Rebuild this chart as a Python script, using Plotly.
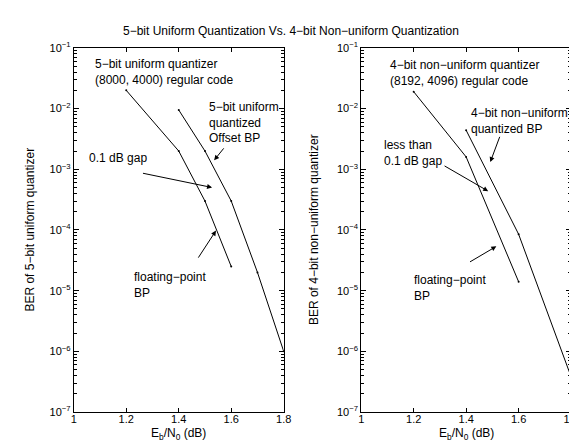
import plotly.graph_objects as go

# ---- data ----
snr_float_5 = [1.2, 1.4, 1.5, 1.6]
ber_float_5 = [2.0e-2, 2.0e-3, 3.0e-4, 2.5e-5]
snr_offset_5 = [1.4, 1.5, 1.6, 1.7, 1.8]
ber_offset_5 = [9.5e-3, 2.0e-3, 3.0e-4, 2.0e-5, 1.0e-6]

snr_float_4 = [1.2, 1.4, 1.6]
ber_float_4 = [1.9e-2, 1.6e-3, 1.4e-5]
snr_quant_4 = [1.4, 1.6, 1.8]
ber_quant_4 = [4.4e-3, 8.5e-5, 3.8e-7]

x_ticks = [1, 1.2, 1.4, 1.6, 1.8]
x_ticklabels = ["1", "1.2", "1.4", "1.6", "1.8"]
y_ticks = [1e-1, 1e-2, 1e-3, 1e-4, 1e-5, 1e-6, 1e-7]
y_ticklabels = ["10<sup>\u22121</sup>", "10<sup>\u22122</sup>", "10<sup>\u22123</sup>",
                "10<sup>\u22124</sup>", "10<sup>\u22125</sup>", "10<sup>\u22126</sup>",
                "10<sup>\u22127</sup>"]
y_minor = [m * 10.0 ** e for e in range(-7, -1) for m in range(2, 10)]

FONT = "Liberation Sans, Arial, sans-serif"

fig = go.Figure()
line = dict(color="black", width=1)
mk = dict(color="black", size=2)
fig.add_trace(go.Scatter(x=snr_float_5, y=ber_float_5, mode="lines+markers", line=line, marker=mk, xaxis="x", yaxis="y"))
fig.add_trace(go.Scatter(x=snr_offset_5, y=ber_offset_5, mode="lines+markers", line=line, marker=mk, xaxis="x", yaxis="y"))
fig.add_trace(go.Scatter(x=snr_float_4, y=ber_float_4, mode="lines+markers", line=line, marker=mk, xaxis="x2", yaxis="y2"))
fig.add_trace(go.Scatter(x=snr_quant_4, y=ber_quant_4, mode="lines+markers", line=line, marker=mk, xaxis="x2", yaxis="y2"))

xax = dict(range=[1, 1.8], tickvals=x_ticks, ticktext=x_ticklabels, ticks="inside", ticklen=4,
           tickcolor="black", showline=True, linecolor="black", linewidth=1, mirror="ticks",
           showgrid=False, zeroline=False, tickfont=dict(size=11, color="black"),
           ticklabelstandoff=-3)
yax = dict(type="log", range=[-7, -1], tickvals=y_ticks, ticktext=y_ticklabels, ticks="inside",
           ticklen=5, tickcolor="black", showline=True, linecolor="black", linewidth=1,
           mirror="ticks", showgrid=False, zeroline=False, tickfont=dict(size=11, color="black"),
           minor=dict(ticks="inside", ticklen=3, tickwidth=1, tickcolor="black",
                      tickvals=y_minor, showgrid=False))

ytop, ybot = 1 - 33 / 441, 1 - 409 / 441
fig.update_layout(
    width=577, height=441, margin=dict(l=0, r=0, t=0, b=0),
    paper_bgcolor="white", plot_bgcolor="white", showlegend=False,
    font=dict(family=FONT, color="black", size=11),
    xaxis=dict(xax, domain=[64 / 577, 278 / 577], anchor="y"),
    yaxis=dict(yax, domain=[ybot, ytop], anchor="x"),
    xaxis2=dict(xax, domain=[357 / 577, 571 / 577], anchor="y2"),
    yaxis2=dict(yax, domain=[ybot, ytop], anchor="x2"),
)

fig.add_annotation(text="5\u2212bit Uniform Quantization Vs. 4\u2212bit Non\u2212uniform Quantization",
                   xref="paper", yref="paper", x=285 / 577, y=1 - 15 / 441, showarrow=False,
                   font=dict(size=12), xanchor="center", yanchor="middle")

ymid = 1 - 221 / 441
for xc, t in [(19, "BER of 5\u2212bit uniform quantizer"), (309, "BER of 4\u2212bit non\u2212uniform quantizer")]:
    fig.add_annotation(text=t, xref="paper", yref="paper", x=xc / 577, y=ymid, textangle=-90,
                       showarrow=False, font=dict(size=12), xanchor="center", yanchor="middle")
for xc in [171, 464]:
    fig.add_annotation(text="E<sub>b</sub>/N<sub>0</sub> (dB)", xref="paper", yref="paper",
                       x=xc / 577, y=1 - 432 / 441, showarrow=False, font=dict(size=12),
                       xanchor="center", yanchor="middle")

def txt(t, x, y, xr, yr, anchor="top"):
    fig.add_annotation(text=t, x=x, y=y, xref=xr, yref=yr, showarrow=False, xanchor="left",
                       yanchor=anchor, align="left", font=dict(size=12))

def arrow(x, y, ax, ay, xr, yr):
    fig.add_annotation(text="", x=x, y=y, ax=ax, ay=ay, xref=xr, yref=yr, axref=xr, ayref=yr,
                       showarrow=True, arrowhead=2, arrowsize=1, arrowwidth=1, arrowcolor="black")

# left panel
txt("5\u2212bit uniform quantizer<br>(8000, 4000) regular code", 1.075, -1.11, "x", "y")
txt("5\u2212bit uniform<br>quantized<br>Offset BP", 1.508, -1.83, "x", "y")
txt("0.1 dB gap", 1.052, -2.82, "x", "y", "middle")
txt("floating\u2212point<br>BP", 1.221, -4.62, "x", "y")
arrow(1.535, -2.85, 1.576, -2.63, "x", "y")
arrow(1.527, -3.30, 1.258, -3.06, "x", "y")
arrow(1.542, -4.01, 1.471, -4.48, "x", "y")

# right panel
txt("4\u2212bit non\u2212uniform quantizer<br>(8192, 4096) regular code", 1.101, -1.13, "x2", "y2")
txt("4\u2212bit non\u2212uniform<br>quantized BP", 1.409, -1.93, "x2", "y2")
txt("less than<br>0.1 dB gap", 1.079, -2.45, "x2", "y2")
txt("floating\u2212point<br>BP", 1.195, -4.67, "x2", "y2")
arrow(1.492, -2.88, 1.530, -2.44, "x2", "y2")
arrow(1.484, -3.36, 1.312, -2.93, "x2", "y2")
arrow(1.515, -4.27, 1.409, -4.54, "x2", "y2")

fig.write_html("out.html")
